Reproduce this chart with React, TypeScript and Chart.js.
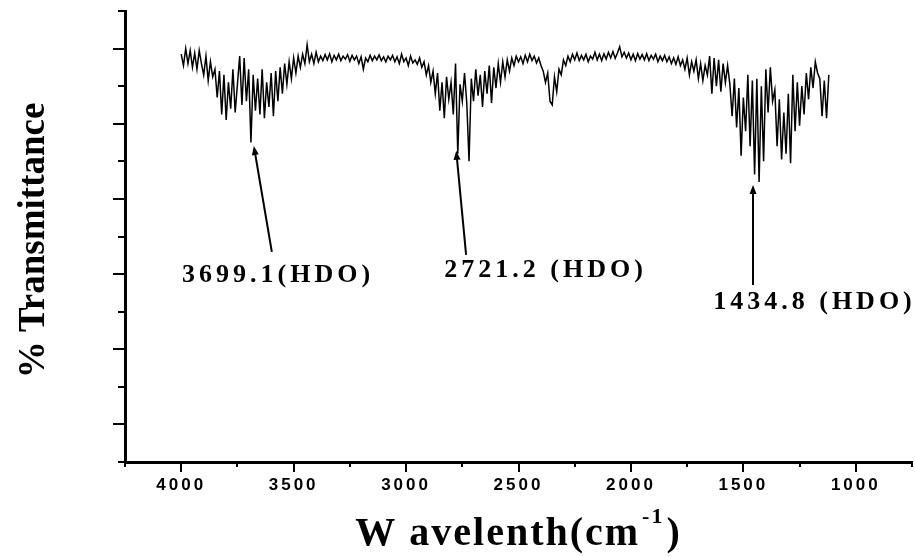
import React, { useEffect, useRef } from 'react';
import { Chart, registerables } from 'chart.js';

Chart.register(...registerables);

// Evenly sampled IR spectrum: first wavenumber and sampling step (cm-1)
const WN_START = 4000;
const WN_STEP = 10;

// % transmittance (arbitrary 0-120 scale), 4000 -> 1120 cm-1
const transmittance = [
  108.5, 105.5, 110.0, 106.0, 109.5, 105.0, 108.8, 104.5, 109.5, 106.0,
  103.0, 108.0, 101.5, 106.5, 102.5, 104.5, 97.0, 104.0, 92.5, 103.0,
  91.0, 101.0, 94.0, 104.5, 93.0, 100.5, 108.0, 95.0, 107.5, 96.0,
  104.5, 85.0, 103.0, 93.5, 102.0, 92.5, 104.5, 91.5, 101.0, 94.5,
  103.5, 92.0, 104.0, 96.0, 105.0, 98.0, 106.0, 100.5, 106.5, 102.0,
  107.5, 103.5, 108.0, 105.0, 108.5, 106.0, 111.0, 106.5, 108.5, 106.0,
  109.0, 106.5, 108.0, 106.8, 108.4, 107.0, 108.6, 106.5, 108.2, 107.0,
  108.5, 106.8, 108.0, 107.2, 108.4, 106.6, 108.2, 107.0, 108.0, 106.0,
  107.8, 104.5, 107.5, 106.5, 108.2, 106.8, 108.0, 107.0, 108.3, 106.8,
  107.8, 106.5, 108.0, 107.0, 108.2, 106.5, 107.8, 106.0, 108.5, 106.5,
  107.5, 105.5, 108.0, 106.2, 107.0, 105.8, 107.5, 105.0, 106.5, 103.0,
  105.5, 101.0, 104.0, 98.0, 103.5, 93.5, 101.0, 91.5, 102.5, 96.5,
  101.0, 92.5, 106.0, 82.0, 100.5, 96.0, 103.5, 95.5, 80.0, 102.0,
  96.0, 104.5, 97.5, 103.0, 94.5, 104.0, 98.0, 105.5, 95.5, 105.0,
  99.5, 106.0, 101.0, 106.5, 102.5, 107.0, 104.0, 107.5, 105.5, 108.0,
  106.5, 107.8, 106.0, 108.2, 106.5, 108.5, 106.8, 108.0, 106.2, 107.5,
  105.5, 104.0, 101.0, 103.5, 96.0, 95.0, 102.5, 98.5, 104.5, 103.0,
  107.0, 105.5, 108.0, 106.5, 108.5, 107.0, 108.8, 106.8, 108.2, 107.0,
  108.5, 106.5, 108.0, 107.2, 109.0, 107.0, 108.5, 106.8, 108.6, 107.2,
  109.0, 107.5, 109.2, 107.4, 108.8, 110.5, 107.8, 109.0, 107.5, 108.8,
  107.0, 108.5, 106.8, 108.7, 107.2, 108.4, 107.0, 108.6, 106.8, 108.2,
  107.2, 108.5, 106.5, 108.0, 106.8, 108.2, 106.5, 107.8, 106.0, 107.5,
  105.8, 107.8, 105.5, 107.0, 104.5, 107.5, 103.0, 106.5, 104.0, 107.0,
  102.0, 106.0, 101.5, 105.5, 103.0, 108.0, 98.0, 107.5, 100.0, 107.0,
  98.5, 106.0, 101.0, 105.5, 100.5, 92.0, 102.0, 89.0, 99.5, 81.5,
  97.0, 88.0, 103.0, 84.0, 101.5, 76.5, 102.0, 74.5, 100.0, 80.0,
  104.5, 93.0, 105.0, 96.0, 99.0, 84.0, 96.5, 80.5, 93.0, 82.0,
  98.0, 79.5, 103.0, 88.0, 101.0, 89.5, 100.0, 92.5, 103.5, 96.5,
  105.0, 99.5, 106.5, 103.5, 102.0, 92.0, 101.5, 91.5, 103.0,
];

// Axis ranges and ticks
const X_MIN = 750;
const X_MAX = 4250;
const X_TICK_STEP = 250;
const X_LABEL_STEP = 500;
const Y_MIN = 0;
const Y_MAX = 120;
const Y_TICK_STEP = 10;

// Peak annotations (text, label anchor, arrow tail and tip, in data units)
const peakLabels = ['3699.1(HDO)', '2721.2 (HDO)', '1434.8 (HDO)'];
const labelWn = [3996, 2830, 1634];
const labelVal = [47.9, 49.2, 40.7];
const arrowTailWn = [3597, 2733, 1457];
const arrowTailVal = [55.9, 55.1, 47.1];
const arrowTipWn = [3677, 2777, 1457];
const arrowTipVal = [84.1, 82.8, 73.7];

const X_TITLE_MAIN = 'W avelenth(cm';
const X_TITLE_SUP = '-1';
const X_TITLE_END = ')';
const Y_TITLE = '% Transmittance';

const decorPlugin = {
  id: 'decor',
  beforeDraw(chart: any) {
    (chart.ctx as any).letterSpacing = '3px';
  },
  beforeDatasetsDraw(chart: any) {
    (chart.ctx as any).letterSpacing = '0px';
  },
  afterDraw(chart: any) {
    const { ctx, chartArea } = chart;
    const xs = chart.scales.x;
    const ys = chart.scales.y;
    ctx.save();
    (ctx as any).letterSpacing = '0px';
    ctx.strokeStyle = '#000';
    ctx.fillStyle = '#000';
    ctx.lineWidth = 2;
    // x tick marks
    xs.ticks.forEach((t: any) => {
      const px = Math.round(xs.getPixelForValue(t.value));
      const len = t.value % X_LABEL_STEP === 0 ? 10 : 5;
      ctx.beginPath();
      ctx.moveTo(px, chartArea.bottom);
      ctx.lineTo(px, chartArea.bottom + len);
      ctx.stroke();
    });
    // y tick marks
    ys.ticks.forEach((t: any) => {
      const py = Math.round(ys.getPixelForValue(t.value));
      const major = (t.value / Y_TICK_STEP) % 2 === 1;
      const len = major ? 12 : 7;
      ctx.beginPath();
      ctx.moveTo(chartArea.left, py);
      ctx.lineTo(chartArea.left - len, py);
      ctx.stroke();
    });

    // annotations
    for (let i = 0; i < peakLabels.length; i++) {
      const tx = xs.getPixelForValue(arrowTailWn[i]);
      const ty = ys.getPixelForValue(arrowTailVal[i]);
      const hx = xs.getPixelForValue(arrowTipWn[i]);
      const hy = ys.getPixelForValue(arrowTipVal[i]);
      const ang = Math.atan2(hy - ty, hx - tx);
      const hl = 9;
      const hw = 3.5;
      ctx.lineWidth = 2;
      ctx.beginPath();
      ctx.moveTo(tx, ty);
      ctx.lineTo(hx - Math.cos(ang) * hl * 0.6, hy - Math.sin(ang) * hl * 0.6);
      ctx.stroke();
      ctx.beginPath();
      ctx.moveTo(hx, hy);
      ctx.lineTo(hx - Math.cos(ang) * hl + Math.sin(ang) * hw, hy - Math.sin(ang) * hl - Math.cos(ang) * hw);
      ctx.lineTo(hx - Math.cos(ang) * hl - Math.sin(ang) * hw, hy - Math.sin(ang) * hl + Math.cos(ang) * hw);
      ctx.closePath();
      ctx.fill();

      ctx.font = 'bold 26px "Liberation Serif"';
      (ctx as any).letterSpacing = '4px';
      ctx.textAlign = 'left';
      ctx.textBaseline = 'alphabetic';
      ctx.fillText(peakLabels[i], xs.getPixelForValue(labelWn[i]), ys.getPixelForValue(labelVal[i]));
      (ctx as any).letterSpacing = '0px';
    }

    // y title
    ctx.save();
    ctx.translate(44, (chartArea.top + chartArea.bottom) / 2 + 4);
    ctx.rotate(-Math.PI / 2);
    ctx.font = 'bold 37px "Liberation Serif"';
    ctx.textAlign = 'center';
    ctx.textBaseline = 'alphabetic';
    ctx.fillText(Y_TITLE, 0, 0);
    ctx.restore();

    // x title with superscript
    const mainFont = 'bold 40px "Liberation Serif"';
    const supFont = 'bold 22px "Liberation Serif"';
    (ctx as any).letterSpacing = '2px';
    ctx.font = mainFont;
    const w1 = ctx.measureText(X_TITLE_MAIN).width;
    const w3 = ctx.measureText(X_TITLE_END).width;
    ctx.font = supFont;
    const w2 = ctx.measureText(X_TITLE_SUP).width;
    const total = w1 + w2 + w3 + 4;
    let x0 = (chartArea.left + chartArea.right) / 2 - total / 2;
    const base = 545;
    ctx.textAlign = 'left';
    ctx.textBaseline = 'alphabetic';
    ctx.font = mainFont;
    ctx.fillText(X_TITLE_MAIN, x0, base);
    x0 += w1 + 2;
    ctx.font = supFont;
    ctx.fillText(X_TITLE_SUP, x0, base - 22);
    x0 += w2 + 2;
    ctx.font = mainFont;
    ctx.fillText(X_TITLE_END, x0, base);
    ctx.restore();
  },
};

export default function App() {
  const canvasRef = useRef<HTMLCanvasElement | null>(null);

  useEffect(() => {
    document.body.style.margin = '0';
    const canvas = canvasRef.current;
    if (!canvas) return;
    const points = transmittance.map((v, i) => ({ x: WN_START - i * WN_STEP, y: v }));
    const chart = new Chart(canvas, {
      type: 'line',
      data: {
        datasets: [
          {
            data: points,
            borderColor: '#000',
            borderWidth: 1.5,
            pointRadius: 0,
            tension: 0,
            fill: false,
          },
        ],
      },
      options: {
        responsive: false,
        animation: false,
        events: [],
        layout: { padding: { top: 11, left: 0, right: 0, bottom: 0 } },
        plugins: { legend: { display: false }, tooltip: { enabled: false }, title: { display: false } },
        scales: {
          x: {
            type: 'linear',
            reverse: true,
            min: X_MIN,
            max: X_MAX,
            grid: { display: false, drawTicks: true, tickLength: 10 },
            border: { display: true, color: '#000', width: 3 },
            ticks: {
              stepSize: X_TICK_STEP,
              autoSkip: false,
              maxRotation: 0,
              minRotation: 0,
              padding: 3,
              color: '#000',
              font: { family: '"Liberation Sans", Arial, sans-serif', size: 17, weight: 'bold' },
              callback: (v: any) => (Number(v) % X_LABEL_STEP === 0 ? String(v) : ''),
            },
            afterFit: (s: any) => {
              s.height = 95;
            },
          },
          y: {
            type: 'linear',
            min: Y_MIN,
            max: Y_MAX,
            grid: { display: false },
            border: { display: true, color: '#000', width: 3 },
            ticks: { stepSize: Y_TICK_STEP, display: false },
            afterFit: (s: any) => {
              s.width = 125;
            },
          },
        },
      },
      plugins: [decorPlugin],
    });
    return () => chart.destroy();
  }, []);

  return (
    <div style={{ width: 915, height: 557, background: '#fff' }}>
      <canvas ref={canvasRef} width={915} height={557} style={{ display: 'block' }} />
    </div>
  );
}
